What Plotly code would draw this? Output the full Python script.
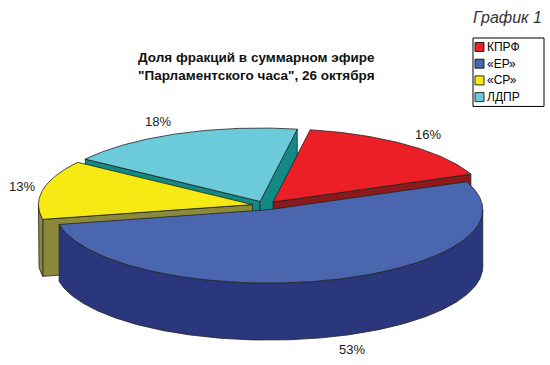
import numpy as np
import plotly.graph_objects as go

# ---- data ----
labels = ["КПРФ", "«ЕР»", "«СР»", "ЛДПР"]
values = [16, 53, 13, 18]
top_colors = ["#ED1F26", "#4A66AF", "#F6EA14", "#6CCBDB"]
side_colors = ["#8C1A1C", "#2B377D", "#8C8A3A", "#118A86"]
title_text = "Доля фракций в суммарном эфире<br>\"Парламентского часа\", 26 октября"
corner_text = "График 1"

# ---- geometry (pixel space) ----
W, Hpx = 550, 365
CX, CY = 265.0, 205.5      # centre of top ellipse
A, B = 214.0, 73.4         # semi-axes of top ellipse
DEPTH = 57.0               # pie thickness
EXPL = 0.06                # explosion fraction
ROT = 10.0                 # first slice angle (deg, clockwise from 12 o'clock)
LINE = dict(color="#222222", width=0.8)
FONT = "Liberation Sans, Arial"

total = float(sum(values))
starts = ROT + 360.0 * np.concatenate([[0.0], np.cumsum(values)[:-1]]) / total
ends = starts + 360.0 * np.array(values) / total
mids = (starts + ends) / 2


def pt(t, ox, oy, r=1.0, dz=0.0):
    t = np.radians(t)
    return CX + ox + r * A * np.sin(t), CY + oy - r * B * np.cos(t) + dz


def arc(t0, t1, ox, oy, dz=0.0):
    n = max(4, int(abs(t1 - t0) * 1.5))
    ts = np.linspace(t0, t1, n)
    return pt(ts, ox, oy, 1.0, dz)


fig = go.Figure()


def poly(xs, ys, color):
    xs, ys = list(xs), list(ys)
    fig.add_trace(go.Scatter(x=xs + [xs[0]], y=ys + [ys[0]], mode="lines",
                             fill="toself", fillcolor=color, line=LINE,
                             hoverinfo="skip", showlegend=False))


def offset(m):
    m = np.radians(m)
    return EXPL * A * np.sin(m), -EXPL * B * np.cos(m)


order = sorted(range(len(values)), key=lambda i: -np.cos(np.radians(mids[i])))
for i in order:
    t0, t1 = starts[i], ends[i]
    ox, oy = offset(mids[i])
    ax, ay = CX + ox, CY + oy
    side = side_colors[i]
    if np.sin(np.radians(t0)) < 0:          # start radial face visible
        px, py = pt(t0, ox, oy)
        poly([ax, px, px, ax], [ay, py, py + DEPTH, ay + DEPTH], side)
    if np.sin(np.radians(t1)) > 0:          # end radial face visible
        px, py = pt(t1, ox, oy)
        poly([ax, px, px, ax], [ay, py, py + DEPTH, ay + DEPTH], side)
    lo, hi = max(t0, 90.0), min(t1, 270.0)  # outer rim, front half
    if hi > lo:
        xt, yt = arc(lo, hi, ox, oy)
        xb, yb = arc(hi, lo, ox, oy, DEPTH)
        poly(np.concatenate([xt, xb]), np.concatenate([yt, yb]), side)
    xt, yt = arc(t0, t1, ox, oy)            # top face
    poly(np.concatenate([[ax], xt]), np.concatenate([[ay], yt]), top_colors[i])

# percentage labels, just outside each slice
for i in range(len(values)):
    m = np.radians(mids[i])
    ox, oy = offset(mids[i])
    ex, ey = pt(mids[i], ox, oy, 1.0, DEPTH if np.cos(m) < 0 else 0.0)
    lx = ex + 21.0 * np.sign(np.sin(m)) * min(1.0, 3.5 * abs(np.sin(m)))
    ly = ey - 13.0 * np.cos(m)
    fig.add_annotation(x=max(22.0, lx), y=ly, text=f"{values[i]}%", showarrow=False,
                       xanchor="center", yanchor="middle",
                       font=dict(size=13, color="#1a1a1a", family=FONT))

# legend box (drawn manually to match the compact original)
LX0, LY0, LW, ROW = 473.0, 38.0, 71.0, 16.7
rows_y = [LY0 + 9.0 + ROW * k for k in range(len(labels))]
fig.add_shape(type="rect", x0=LX0, x1=LX0 + LW, y0=LY0, y1=LY0 + 9.0 + ROW * (len(labels) - 0.5) + 1,
              line=dict(color="#000", width=1), fillcolor="white", layer="below")
fig.add_trace(go.Scatter(x=[LX0 + 6.5] * len(labels), y=rows_y, mode="markers",
                         marker=dict(symbol="square", size=9, color=top_colors,
                                     line=dict(color="#000", width=0.8)),
                         hoverinfo="skip", showlegend=False))
for lab, yy in zip(labels, rows_y):
    fig.add_annotation(x=LX0 + 12, y=yy, text=lab, showarrow=False, xanchor="left",
                       yanchor="middle", font=dict(size=12, color="#000", family=FONT))

fig.add_annotation(x=256, y=66, showarrow=False, xanchor="center", yanchor="middle",
                   text="<b>" + title_text.replace("<br>", "</b><br><b>") + "</b>",
                   font=dict(size=13.5, color="#111", family=FONT))
fig.add_annotation(x=507, y=17, text="<i>" + corner_text + "</i>", showarrow=False,
                   xanchor="center", yanchor="middle",
                   font=dict(size=16, color="#333", family=FONT))

fig.update_layout(
    width=W, height=Hpx, margin=dict(l=0, r=0, t=0, b=0),
    paper_bgcolor="white", plot_bgcolor="white",
    xaxis=dict(range=[0, W], visible=False, fixedrange=True),
    yaxis=dict(range=[Hpx, 0], visible=False, fixedrange=True),
    showlegend=False,
)

fig.write_html("out.html")
